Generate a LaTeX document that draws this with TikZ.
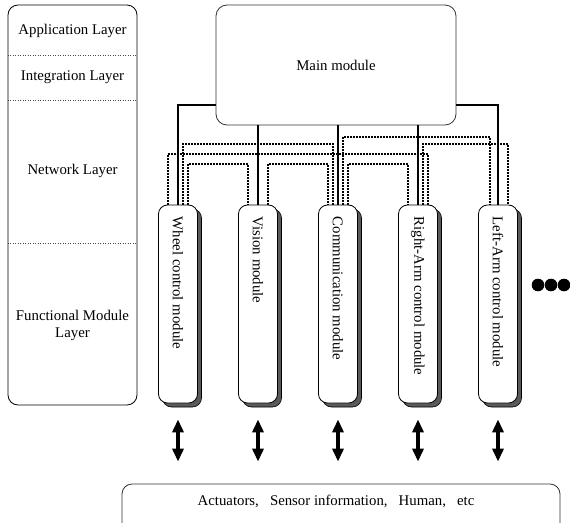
\documentclass[tikz,border=0pt]{standalone}
\usepackage{fontspec}
\setmainfont{Liberation Serif}
\usetikzlibrary{arrows.meta,shadows}

\tikzset{
    layerbox/.style={draw=black, line width=0.8, rounded corners=10pt, minimum width=129pt, minimum height=400pt},
    mainbox/.style={draw=black!80, line width=0.8, rounded corners=11pt, minimum width=240pt, minimum height=120pt},
    modbox/.style={draw=black, fill=white, line width=0.8, rounded corners=9pt, minimum width=39pt, minimum height=198pt,
        drop shadow={shadow xshift=4pt, shadow yshift=-4pt, opacity=1, fill=black!65, draw=black, line width=0.6}},
    modlabel/.style={rotate=-90, anchor=west, inner sep=2pt},
    envbox/.style={draw=black!80, line width=0.8, rounded corners=10pt, minimum width=438pt, minimum height=52pt},
    link/.style={line width=1.3, color=black},
    bus/.style={line width=1.3, color=black, dash pattern=on 1.4pt off 1.6pt},
    divider/.style={line width=0.5, color=black!70, dotted},
    updown/.style={line width=3.2, {Triangle[width=11pt,length=13pt]}-{Triangle[width=11pt,length=13pt]}}
}

\begin{document}
\begin{tikzpicture}[x=1pt, y=-1pt, every node/.style={font=\fontsize{14.8}{17}\selectfont}]
    \useasboundingbox (0, 0) rectangle (570, 522);

    % Layers:
    \node[layerbox] (layers) at (72.5, 205) {};
    \coordinate (d1) at (0, 55);
    \coordinate (d2) at (0, 100);
    \coordinate (d3) at (0, 243);
    \foreach \d in {d1, d2, d3}
        \draw[divider] (layers.west |- \d) -- (layers.east |- \d);
    \node (app) at (72.5, 31) {Application Layer};
    \node (integ) at (72.5, 77) {Integration Layer};
    \node (net) at (72.5, 171) {Network Layer};
    \node[align=center] (func) at (72.5, 325) {Functional Module\\Layer};

    % Main module:
    \node[mainbox] (main) at (336, 65) {Main module};

    % Modules:
    \foreach \i/\x in {1/178, 2/258, 3/338, 4/418, 5/498}
        \node[modbox] (m\i) at (\x, 304) {};
    \foreach \i/\t in {1/Wheel control module, 2/Vision module, 3/Communication module,
                       4/Right-Arm control module, 5/Left-Arm control module}
        \node[modlabel] (t\i) at ([yshift=-10pt]m\i.north) {\t};

    % Main module to modules:
    \draw[link] ([yshift=-40pt]main.west) -| (m1.north);
    \foreach \i in {2, 3, 4}
        \draw[link] (m\i.north |- main.south) -- (m\i.north);
    \draw[link] ([yshift=-40pt]main.east) -| (m5.north);

    % Bus rows:
    \coordinate (r1) at (0, 137);
    \coordinate (r2) at (0, 144);
    \coordinate (r3) at (0, 154);
    \coordinate (r4) at (0, 164);

    % Module to module links:
    \foreach \a/\da/\r/\b/\db in {1/5/r2/3/-5, 1/-10/r3/4/10, 1/10/r4/2/-10, 2/10/r4/3/-10,
                                  3/5/r1/5/-8, 3/10/r4/4/-10, 4/5/r2/5/10}
        \draw[bus] ([xshift=\da pt]m\a.north) -- ([xshift=\da pt]m\a.north |- \r)
                   -- ([xshift=\db pt]m\b.north |- \r) -- ([xshift=\db pt]m\b.north);

    % More modules:
    \foreach \x in {538, 551, 564}
        \fill[black] (\x, 285) circle (6.3pt);

    % Environment:
    \node[envbox] (env) at (341, 510) {};
    \node (envtext) at ([xshift=-5pt, yshift=-18pt]env.north) {Actuators,\ \ \ Sensor information,\ \ \ Human,\ \ \ etc};

    % Modules to environment:
    \foreach \i in {1, 2, 3, 4, 5}
        \draw[updown] ([yshift=-16pt]m\i.south) -- ([yshift=22pt]m\i.south |- env.north);
\end{tikzpicture}
\end{document}
